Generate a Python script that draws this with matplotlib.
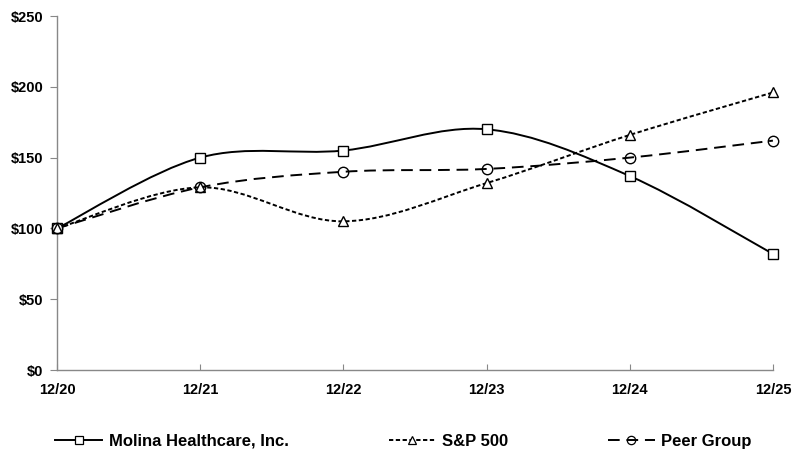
import matplotlib.pyplot as plt
from matplotlib.path import Path
from matplotlib.patches import PathPatch
from matplotlib.lines import Line2D

periods = ["12/20", "12/21", "12/22", "12/23", "12/24", "12/25"]
molina = [100, 150, 155, 170, 137, 82]
sp500 = [100, 129, 105, 132, 166, 196]
peer = [100, 129, 140, 142, 150, 162]


def smooth_path(xs, ys):
    # Excel-style smoothed line: cubic Bezier segments through each point
    pts = list(zip(xs, ys))
    verts = [pts[0]]
    codes = [Path.MOVETO]
    n = len(pts)
    for i in range(n - 1):
        p0 = pts[max(i - 1, 0)]
        p1 = pts[i]
        p2 = pts[i + 1]
        p3 = pts[min(i + 2, n - 1)]
        c1 = (p1[0] + (p2[0] - p0[0]) / 6, p1[1] + (p2[1] - p0[1]) / 6)
        c2 = (p2[0] - (p3[0] - p1[0]) / 6, p2[1] - (p3[1] - p1[1]) / 6)
        verts += [c1, c2, p2]
        codes += [Path.CURVE4] * 3
    return Path(verts, codes)


plt.rcParams["font.family"] = ["Liberation Sans", "DejaVu Sans"]
plt.rcParams["font.weight"] = "bold"

fig = plt.figure(figsize=(7.96, 4.55), dpi=100)
ax = fig.add_axes([0.0716, 0.1868, 0.8994, 0.778])

x = list(range(len(periods)))
series = [
    ("Molina Healthcare, Inc.", molina, "-", "s", "white"),
    ("S&P 500", sp500, (0, (2.2, 1.3)), "^", "white"),
    ("Peer Group", peer, (0, (6, 3.5)), "o", "none"),
]

handles = []
for label, vals, ls, mk, mfc in series:
    patch = PathPatch(smooth_path(x, vals), facecolor="none", edgecolor="black",
                      lw=1.4, linestyle=ls, zorder=2, clip_on=False)
    ax.add_patch(patch)
    ax.plot(x, vals, linestyle="none", marker=mk, markersize=7.5,
            markerfacecolor=mfc, markeredgecolor="black", markeredgewidth=1.0,
            zorder=3, clip_on=False)
    handles.append(Line2D([], [], color="black", lw=1.4, linestyle=ls,
                          marker=mk, markersize=6, markerfacecolor=mfc,
                          markeredgecolor="black", markeredgewidth=0.9,
                          label=label))

ax.set_xlim(0, len(periods) - 1)
ax.set_ylim(0, 250)
ax.set_xticks(x)
ax.set_xticklabels(periods, fontsize=10.5, fontweight="bold")
ax.set_yticks(range(0, 251, 50))
ax.set_yticklabels([f"${v}" for v in range(0, 251, 50)], fontsize=10.5,
                   fontweight="bold")
ax.tick_params(axis="x", direction="in", length=4, color="#888888", pad=9)
ax.tick_params(axis="y", direction="out", length=5, color="#888888", pad=5)
for side in ["top", "right"]:
    ax.spines[side].set_visible(False)
for side in ["left", "bottom"]:
    ax.spines[side].set_color("#888888")
    ax.spines[side].set_linewidth(1.0)

fig.legend(handles=handles, loc="center", bbox_to_anchor=(0.507, 0.03),
           ncol=3, frameon=False, handlelength=2.8,
           columnspacing=6.0, handletextpad=0.4,
           prop={"weight": "bold", "size": 12})

fig.savefig("out.png", dpi=100)
